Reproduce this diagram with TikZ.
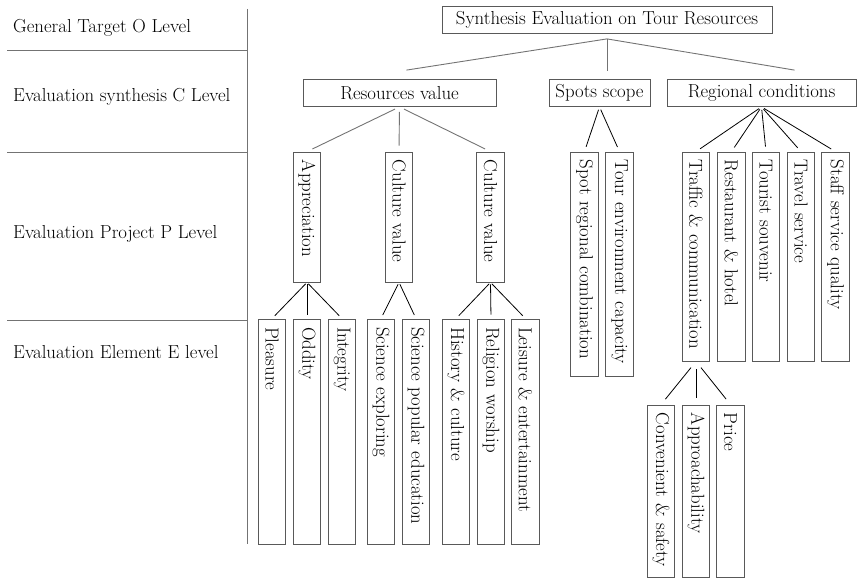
\documentclass[tikz,border=0pt]{standalone}
\usetikzlibrary{calc}
\tikzset{hbox/.style={rectangle,draw=black!65,line width=0.8pt,minimum width=#1,minimum height=27pt,inner sep=0pt}}
\tikzset{vbox/.style={rectangle,draw=black!65,line width=0.8pt,rotate=-90,minimum height=27.5pt,inner xsep=8pt,inner ysep=1pt,text width=#1,align=left}}
\tikzset{link/.style={black,line width=0.8pt,shorten <=3pt,shorten >=5pt}}
\tikzset{glink/.style={black!55,line width=0.9pt}}

\begin{document}
\begin{tikzpicture}[x=1pt,y=-1pt,font=\fontsize{18.8}{21}\selectfont]
\useasboundingbox (0,0) rectangle (863,580);

% level names and dividers
\node[anchor=west,inner sep=0pt] (lvO) at (13,28) {General Target O Level};
\node[anchor=west,inner sep=0pt] (lvC) at (13,97) {Evaluation synthesis C Level};
\node[anchor=west,inner sep=0pt] (lvP) at (13,234) {Evaluation Project P Level};
\node[anchor=west,inner sep=0pt] (lvE) at (13,352) {Evaluation Element E level};
\foreach \y in {50,152,320}{
  \draw[glink] (7,\y) -- (247,\y);
}
\draw[glink] (247,9) -- (247,544);

% O and C level
\node[hbox=330pt] (syn) at (607,20) {Synthesis Evaluation on Tour Resources};
\node[hbox=193pt] (resv) at (399.5,93) {Resources value};
\node[hbox=101pt] (spot) at (599.5,93) {Spots scope};
\node[hbox=189pt] (regc) at (761.5,93) {Regional conditions};

\draw[glink] ($(syn.south)+(0,5)$) -- ($(resv.north)+(7,-9)$);
\draw[glink] ($(syn.south)+(0,5)$) -- ($(syn.south)+(0,37)$);
\draw[glink] ($(syn.south)+(0,5)$) -- ($(regc.north)+(33,-9)$);

% P level (rotated: .west is the top, .east the bottom)
\foreach \x/\t [count=\i] in {307/Appreciation,399/Culture value,490.5/Culture value}{
  \node[vbox=114pt] (P\i) at (\x,217) {\mbox{\t}};
  \draw[glink,shorten <=5pt,shorten >=6pt] (resv.south) -- (P\i.west);
}

\foreach \x/\t [count=\i] in {584.5/Spot regional combination,619.5/Tour environment capacity}{
  \node[vbox=208pt] (S\i) at (\x,264) {\mbox{\t}};
  \draw[link] (spot.south) -- (S\i.west);
}

\foreach \x/\t [count=\i] in {696/Traffic \& communication,731.5/Restaurant \& hotel,
    766/Tourist souvenir,801/Travel service,835.5/Staff service quality}{
  \node[vbox=193pt] (R\i) at (\x,256.5) {\mbox{\t}};
  \draw[link] (regc.south) -- (R\i.west);
}

% E level
\foreach \x/\t/\p [count=\i] in {272/Pleasure/P1,307/Oddity/P1,342/Integrity/P1,
    381/Science exploring/P2,416/Science popular education/P2,
    456/History \& culture/P3,491/Religion worship/P3,525.5/Leisure \& entertainment/P3}{
  \node[vbox=209pt] (E\i) at (\x,431.5) {\mbox{\t}};
  \draw[link,shorten <=2pt,shorten >=4pt] (\p.east) -- (E\i.west);
}

\foreach \x/\t [count=\i] in {661/Convenient \& safety,696/Approachability,730.5/Price}{
  \node[vbox=156pt] (T\i) at (\x,491) {\mbox{\t}};
  \draw[link,shorten <=8pt,shorten >=7pt] (R1.east) -- (T\i.west);
}

\end{tikzpicture}
\end{document}
